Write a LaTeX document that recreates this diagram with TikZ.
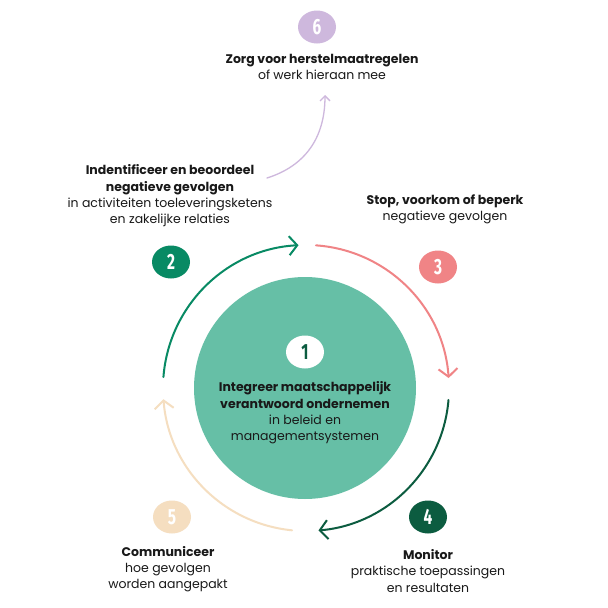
\documentclass[tikz,border=0pt]{standalone}
\usepackage{fontspec}
\setmainfont{Poppins}
\newfontfamily\numfont{Fira Sans}
\usetikzlibrary{arrows.meta,shapes.geometric}
\definecolor{mint}{RGB}{102,191,166}
\definecolor{gtwo}{RGB}{8,138,100}
\definecolor{pthree}{RGB}{240,132,134}
\definecolor{dfour}{RGB}{12,92,64}
\definecolor{bfive}{RGB}{245,222,192}
\definecolor{lsix}{RGB}{206,184,221}
\definecolor{ink}{RGB}{25,25,25}
\tikzset{
  badge/.style={ellipse, minimum width=38pt, minimum height=33pt, inner sep=0pt, text=white,
    font=\numfont\bfseries\fontsize{22}{22}\selectfont},
  lbl/.style={align=center, text=ink, inner sep=0pt, font=\fontsize{12.5}{16.3}\selectfont},
  cyc/.style={line width=2pt, line cap=round, -{Straight Barb[length=8pt,width=19pt,line width=2pt]}},
}
\begin{document}
\begin{tikzpicture}[x=1pt,y=-1pt]
\useasboundingbox (0,0) rectangle (608,608);
\fill[white] (0,0) rectangle (608,608);
\coordinate (c) at (306,388);
% central circle
\node[circle, fill=mint, minimum size=222pt, inner sep=0pt] (core) at (305,388) {};
\node[badge, fill=white, text=dfour] (b1) at (305,352) {\scalebox{0.7}[1]{1}};
\node[lbl] (t1) at (305,413) {\textbf{Integreer maatschappelijk}\\\textbf{verantwoord ondernemen}\\in beleid en\\managementsystemen};
% cycle arcs
\draw[cyc, gtwo] (c) ++(-175.6:143) coordinate (a2s) arc[start angle=-175.6, end angle=-93, radius=143] coordinate (a2e);
\draw[cyc, pthree] (c) ++(-86:143) coordinate (a3s) arc[start angle=-86, end angle=-4, radius=143] coordinate (a3e);
\draw[cyc, dfour] (c) ++(4.8:143) coordinate (a4s) arc[start angle=4.8, end angle=85, radius=143] coordinate (a4e);
\draw[cyc, bfive] (c) ++(95.6:143) coordinate (a5s) arc[start angle=95.6, end angle=175.5, radius=143] coordinate (a5e);
% badges
\node[badge, fill=gtwo] (b2) at (171,262) {\scalebox{0.7}[1]{2}};
\node[badge, fill=pthree] (b3) at (438,267) {\scalebox{0.7}[1]{3}};
\node[badge, fill=dfour] (b4) at (428,517) {\scalebox{0.7}[1]{4}};
\node[badge, fill=bfive] (b5) at (172,517) {\scalebox{0.7}[1]{5}};
\node[badge, fill=lsix] (b6) at (317,27) {\scalebox{0.7}[1]{6}};
% labels
\node[lbl] (t6) at (322,67) {\textbf{Zorg voor herstelmaatregelen}\\of werk hieraan mee};
\node[lbl] (t2) at (170,196) {\textbf{Indentificeer en beoordeel}\\\textbf{negatieve gevolgen}\\in activiteiten toeleveringsketens\\en zakelijke relaties};
\node[lbl] (t3) at (445,209) {\textbf{Stop, voorkom of beperk}\\negatieve gevolgen};
\node[lbl] (t5) at (168,569) {\textbf{Communiceer}\\hoe gevolgen\\worden aangepakt};
\node[lbl] (t4) at (428,571) {\textbf{Monitor}\\praktische toepassingen\\en resultaten};
% lavender arrow
\coordinate (l6s) at (267,178);
\coordinate (l6e) at (325,95);
\draw[lsix, line width=1.3pt, line cap=round, -{Straight Barb[length=5pt,width=10pt,line width=1.3pt]}]
  (l6s) .. controls (305,166) and (325,138) .. (l6e);
\end{tikzpicture}
\end{document}
